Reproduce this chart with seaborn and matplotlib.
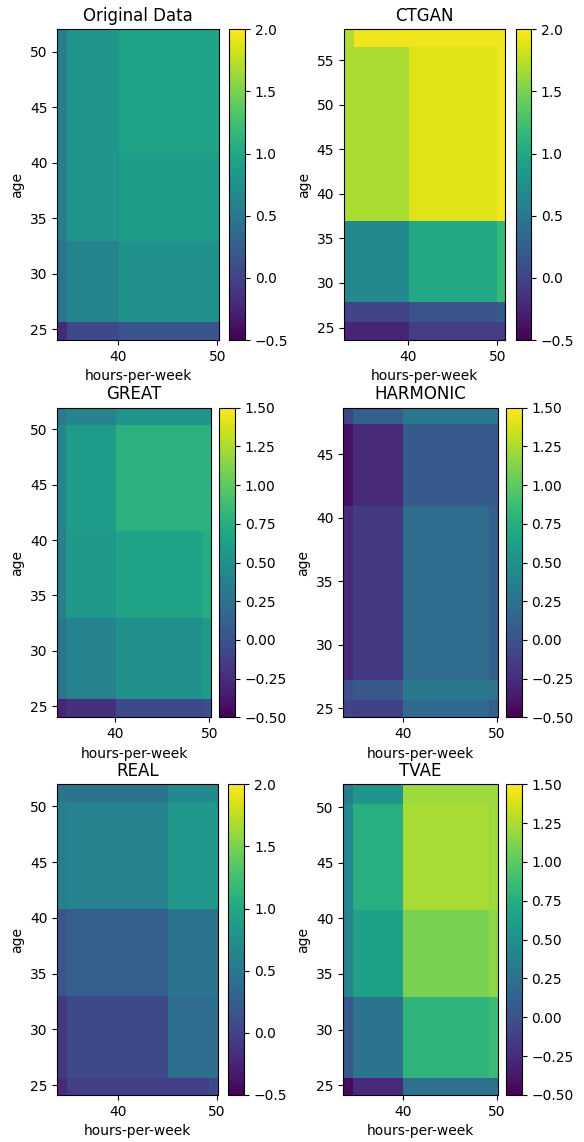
import numpy as np
import matplotlib
matplotlib.use("Agg")
import matplotlib.pyplot as plt
import seaborn as sns

titles = ["Original Data", "CTGAN", "GREAT", "HARMONIC", "REAL", "TVAE"]

# bin edges (hours-per-week, age) per model
x_orig = [33.84, 34.85, 40.07, 49.3, 50.17]
y_orig = [24.04, 25.69, 32.98, 40.9, 50.45, 52.01]
x_ctgan = [32.9, 34.0, 40.1, 49.96, 50.86]
y_ctgan = [23.6, 25.67, 27.84, 37.0, 56.46, 58.48]
x_great = [33.88, 34.77, 40.07, 49.33, 50.15]
y_great = [23.98, 25.63, 32.95, 40.81, 50.42, 51.96]
x_harm = [33.69, 34.68, 40.07, 49.2, 50.1]
y_harm = [24.3, 25.7, 27.2, 40.95, 47.34, 48.66]
x_real = [33.93, 34.93, 45.03, 49.23, 50.13]
y_real = [24.13, 25.63, 33.0, 40.8, 50.42, 51.97]
x_tvae = [33.69, 34.68, 40.07, 49.2, 50.1]
y_tvae = [24.13, 25.63, 32.92, 40.79, 50.3, 52.04]

# values, rows from lowest age bin to highest
z_orig = [[-0.20, 0.05, 0.15, 0.15],
          [0.45, 0.62, 0.75, 0.75],
          [0.55, 0.80, 0.88, 0.88],
          [0.55, 0.80, 0.95, 0.95],
          [0.55, 0.80, 0.95, 0.95]]
z_ctgan = [[-0.25, -0.25, -0.05, -0.05],
           [0.00, 0.00, 0.13, 0.20],
           [0.68, 0.68, 1.00, 1.18],
           [1.68, 1.68, 1.88, 1.95],
           [1.70, 1.95, 1.95, 1.95]]
z_great = [[-0.30, -0.22, -0.06, -0.02],
           [0.26, 0.38, 0.50, 0.60],
           [0.36, 0.58, 0.66, 0.74],
           [0.40, 0.60, 0.78, 0.78],
           [0.30, 0.40, 0.54, 0.54]]
z_harm = [[-0.10, -0.12, 0.18, 0.10],
          [-0.02, 0.04, 0.30, 0.26],
          [-0.26, -0.16, 0.20, 0.10],
          [-0.42, -0.26, 0.06, 0.06],
          [-0.10, 0.10, 0.30, 0.30]]
z_real = [[-0.20, -0.05, -0.05, 0.05],
          [-0.10, 0.05, 0.38, 0.40],
          [0.15, 0.25, 0.45, 0.45],
          [0.55, 0.60, 0.83, 0.85],
          [0.45, 0.45, 0.68, 0.68]]
z_tvae = [[-0.44, -0.26, 0.24, 0.24],
          [0.04, 0.26, 0.80, 0.86],
          [0.40, 0.64, 1.10, 1.16],
          [0.44, 0.76, 1.24, 1.20],
          [0.34, 0.54, 1.20, 1.20]]

vmins = [-0.5, -0.5, -0.5, -0.5, -0.5, -0.5]
vmaxs = [2.0, 2.0, 1.5, 1.5, 2.0, 1.5]
cbar_ticks_a = [-0.5, 0.0, 0.5, 1.0, 1.5, 2.0]
cbar_ticks_b = [-0.5, -0.25, 0.0, 0.25, 0.5, 0.75, 1.0, 1.25, 1.5]
x_ticks = [40, 50]

xs = [x_orig, x_ctgan, x_great, x_harm, x_real, x_tvae]
ys = [y_orig, y_ctgan, y_great, y_harm, y_real, y_tvae]
zs = [z_orig, z_ctgan, z_great, z_harm, z_real, z_tvae]
cticks = [cbar_ticks_a, cbar_ticks_a, cbar_ticks_b, cbar_ticks_b, cbar_ticks_a, cbar_ticks_b]

cmap = sns.color_palette("viridis", as_cmap=True)

W, H = 584, 1142
fig = plt.figure(figsize=(W / 100, H / 100), dpi=100)

# layout in pixels: (left, right, top, bottom, cbar_left, cbar_right)
layout = [
    (57.3, 219.0, 29.3, 340.0, 229.0, 245.0),
    (344.0, 505.0, 29.3, 340.0, 515.7, 531.0),
    (57.3, 210.7, 407.7, 717.3, 219.3, 235.0),
    (343.3, 497.7, 407.7, 717.3, 506.0, 521.7),
    (57.3, 218.3, 784.3, 1095.0, 228.3, 244.3),
    (343.3, 497.7, 784.3, 1095.0, 506.0, 521.7),
]

for i in range(6):
    l, r, t, b, cl, cr = layout[i]
    ax = fig.add_axes([l / W, 1 - b / H, (r - l) / W, (b - t) / H])
    cax = fig.add_axes([cl / W, 1 - b / H, (cr - cl) / W, (b - t) / H])
    mesh = ax.pcolormesh(np.array(xs[i]), np.array(ys[i]), np.array(zs[i]),
                         cmap=cmap, vmin=vmins[i], vmax=vmaxs[i], shading="flat")
    ax.set_xlim(xs[i][0], xs[i][-1])
    ax.set_ylim(ys[i][0], ys[i][-1])
    ax.set_xticks(x_ticks)
    ax.yaxis.set_major_locator(matplotlib.ticker.MultipleLocator(5))
    ax.set_xlabel("hours-per-week")
    ax.set_ylabel("age")
    ax.set_title(titles[i])
    cb = fig.colorbar(mesh, cax=cax)
    cb.set_ticks(cticks[i])

fig.savefig("out.png", dpi=100)
